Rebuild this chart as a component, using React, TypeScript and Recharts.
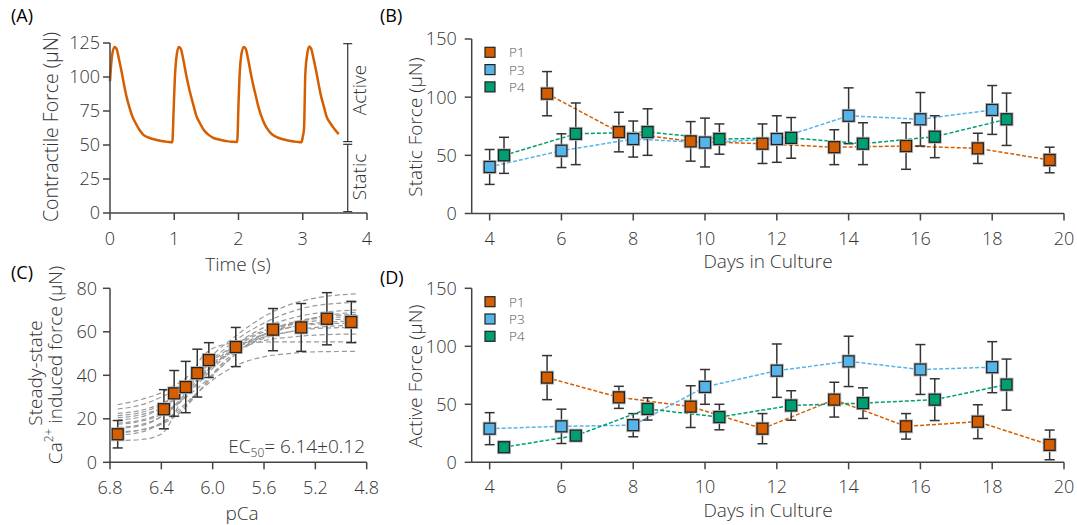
import React from "react";
import {
  LineChart, Line, XAxis, YAxis, ErrorBar, ReferenceLine,
} from "recharts";

// ---- panel A: contractile force trace ----
const traceTime = [
  0, 0.03, 0.07, 0.10, 0.14, 0.18, 0.22, 0.26, 0.30, 0.34, 0.40, 0.46, 0.52, 0.60, 0.70, 0.80, 0.90, 0.97,
  0.99, 1.01, 1.03, 1.07, 1.10, 1.14, 1.18, 1.22, 1.26, 1.30, 1.34, 1.40, 1.46, 1.52, 1.60, 1.70, 1.80, 1.90, 1.98,
  2.00, 2.02, 2.04, 2.08, 2.11, 2.15, 2.19, 2.23, 2.27, 2.31, 2.35, 2.41, 2.47, 2.53, 2.61, 2.71, 2.81, 2.91, 2.98,
  3.00, 3.02, 3.04, 3.07, 3.10, 3.13, 3.17, 3.21, 3.25, 3.29, 3.33, 3.37, 3.43, 3.49, 3.56,
];
const traceForce = [
  97, 115, 122, 121, 113, 104, 94, 85, 78, 72, 66, 61, 57.5, 55.5, 54, 53, 52.3, 52,
  75, 100, 113, 122, 121, 113, 103, 94, 86, 79, 72, 66, 61, 58, 55.5, 54, 53, 52.3, 52.2,
  80, 104, 115, 122, 121, 113, 103, 94, 86, 78, 72, 65, 60.5, 57.5, 55.5, 54, 53, 52.3, 52,
  56, 62, 102, 117, 122.5, 121, 113, 104, 94, 85, 78, 71, 66, 62, 58,
];
const bracketTime = 3.7;
const bracketCap = 0.07;
const activeSpan = [52.5, 124.5];
const staticSpan = [1, 50.5];

// ---- panels B & D: days in culture ----
const seriesNames = ["P1", "P3", "P4"];
const seriesColors = ["#D55E00", "#56B4E9", "#009E73"];
const p1Days = [5.6, 7.6, 9.6, 11.6, 13.6, 15.6, 17.6, 19.6];
const p3Days = [4, 6, 8, 10, 12, 14, 16, 18];
const p4Days = [4.4, 6.4, 8.4, 10.4, 12.4, 14.4, 16.4, 18.4];
const dayTicks = [4, 6, 8, 10, 12, 14, 16, 18, 20];

const staticP1 = [103, 70, 62, 60, 57, 58, 56, 46];
const staticP1Err = [19, 17, 17, 17, 15, 20, 13, 11];
const staticP3 = [40, 54, 64, 61, 64, 84, 81, 89];
const staticP3Err = [15, 14.5, 15.5, 21, 20, 24, 23, 21];
const staticP4 = [50, 68.5, 70, 64, 65, 60, 66, 81];
const staticP4Err = [15.5, 26.5, 20, 13, 17.5, 18, 18, 22.5];

const activeP1 = [73, 56, 48, 29, 54, 31, 35, 15];
const activeP1Err = [19, 9.5, 18, 13, 15, 11, 14.6, 12.8];
const activeP3 = [29, 31, 32, 65, 79, 87, 80, 82];
const activeP3Err = [13.8, 14.8, 10, 15, 23, 21.7, 21.5, 22];
const activeP4 = [13, 23, 46, 39, 49, 51, 54, 67];
const activeP4Err = [3, 3, 9.6, 11, 12.7, 13.2, 18, 22];

// ---- panel C: pCa-force ----
const pCaMean = [6.74, 6.38, 6.30, 6.21, 6.12, 6.03, 5.82, 5.53, 5.31, 5.11, 4.92];
const forceMean = [12.9, 24.4, 31.7, 34.6, 41, 47, 53, 61, 62, 66, 64.5];
const forceErr = [6.3, 9, 10.5, 11.8, 11, 8, 9, 9.7, 11, 12, 9.5];
const fitPCa = [6.74, 6.55, 6.4, 6.25, 6.1, 5.95, 5.8, 5.6, 5.4, 5.2, 4.88];
const fitCurves = [
  [10, 10.5, 13, 28, 47, 53.5, 55, 55.3, 55.4, 55.4, 55.4],
  [26.5, 29, 32, 37, 44, 52, 59, 67, 72.5, 75.5, 77.5],
  [24.5, 26.5, 30, 35, 42, 50, 57, 64, 69, 72, 73.5],
  [22.5, 24, 27, 32, 40, 48, 55, 62, 66, 68.5, 70],
  [20.5, 22, 25, 31, 39, 47, 54, 60, 64, 66.5, 68],
  [19.5, 21, 25, 32, 41, 49, 55, 60.5, 63.5, 65, 66],
  [17.5, 19, 22, 28, 37, 46, 53, 59, 62, 63.5, 64],
  [16, 17.5, 21, 28, 38, 47, 53, 57.5, 60, 61.5, 62],
  [15.5, 17, 21, 29, 39, 47, 52, 56, 57.5, 58.5, 59],
  [13.5, 15, 18, 24, 33, 43, 51, 59, 63.5, 66, 67],
  [12.5, 14, 18, 25, 33, 40, 45, 48.5, 50, 50.8, 51],
  [14, 15, 17.5, 23, 33, 44, 51.5, 57, 60, 62, 63],
  [18, 19.5, 22.5, 28, 35, 43, 50.5, 58, 63, 66.5, 69],
  [21.5, 23, 26.5, 32, 39.5, 47, 53, 58.5, 62, 64, 65],
];

const font = "'Open Sans', 'Noto Sans', sans-serif";
const weight = 300;
const axisColor = "#444";
const tickStyle = { fontSize: 18, fill: "#333", fontFamily: font, fontWeight: weight };

const traceData = traceTime.map((t, i) => ({ x: t, y: traceForce[i] }));
const zipSeries = (xs: number[], ys: number[], es: number[]) =>
  xs.map((x, i) => ({ x, y: ys[i], err: es[i] }));

const staticSeries = [
  zipSeries(p1Days, staticP1, staticP1Err),
  zipSeries(p3Days, staticP3, staticP3Err),
  zipSeries(p4Days, staticP4, staticP4Err),
];
const activeSeries = [
  zipSeries(p1Days, activeP1, activeP1Err),
  zipSeries(p3Days, activeP3, activeP3Err),
  zipSeries(p4Days, activeP4, activeP4Err),
];
const meanData = zipSeries(pCaMean, forceMean, forceErr);
const fitData = fitCurves.map(c => fitPCa.map((x, i) => ({ x, y: c[i] })));

const squareDot = (color: string) => (props: any) => {
  const { cx, cy, index } = props;
  if (cx == null || cy == null) return <g key={index} />;
  return (
    <g key={index}>
      <rect x={cx - 6.5} y={cy - 6.5} width={13} height={13} fill="none" stroke="#bbb" strokeWidth={1} />
      <rect x={cx - 5.5} y={cy - 5.5} width={11} height={11} fill={color} stroke="#222" strokeWidth={1.3} />
    </g>
  );
};

const axisProps = {
  axisLine: { stroke: axisColor, strokeWidth: 1.5 },
  tickLine: { stroke: axisColor, strokeWidth: 1.5 },
  tickSize: 7,
  tick: tickStyle,
};

function DaysPanel({ series, top, height, margin, xTickMargin }: { series: any[]; top: number; height: number; margin: any; xTickMargin: number }) {
  return (
    <div style={{ position: "absolute", left: 380, top }}>
      <LineChart width={697} height={height} margin={margin}>
        <XAxis type="number" dataKey="x" domain={[3.5, 20]} ticks={dayTicks} height={30} tickMargin={xTickMargin} {...axisProps} />
        <YAxis type="number" domain={[0, 150]} ticks={[0, 50, 100, 150]} width={40} tickMargin={8} {...axisProps} />
        {series.map((d, i) => (
          <Line
            key={seriesNames[i]}
            data={d}
            dataKey="y"
            type="linear"
            stroke={seriesColors[i]}
            strokeWidth={1.5}
            strokeDasharray="4 2"
            dot={squareDot(seriesColors[i])}
            activeDot={false}
            isAnimationActive={false}
          >
            <ErrorBar dataKey="err" width={5} stroke="#333" strokeWidth={1.5} direction="y" />
          </Line>
        ))}
      </LineChart>
    </div>
  );
}

function Legend({ top }: { top: number }) {
  return (
    <g>
      {seriesNames.map((n, i) => (
        <g key={n}>
          <rect x={485} y={top + i * 17.3 - 5} width={10} height={10} fill={seriesColors[i]} stroke="#222" strokeWidth={1.2} />
          <text x={509} y={top + i * 17.3 + 5} fontSize={13.5} fill="#555">{n}</text>
        </g>
      ))}
    </g>
  );
}

const rot = (x: number, y: number) => `translate(${x},${y}) rotate(-90)`;

export default function App() {
  return (
    <div style={{ position: "absolute", left: 0, top: 0, width: 1077, height: 525, background: "#fff", fontFamily: font }}>
      {/* (A) force trace */}
      <div style={{ position: "absolute", left: 0, top: 0 }}>
        <LineChart width={380} height={260} margin={{ top: 43, right: 13, bottom: 17, left: 70 }}>
          <XAxis type="number" dataKey="x" domain={[0, 4]} ticks={[0, 1, 2, 3, 4]} height={30} tickMargin={12} {...axisProps} />
          <YAxis type="number" domain={[0, 125]} ticks={[0, 25, 50, 75, 100, 125]} width={40} tickMargin={3} {...axisProps} />
          <Line data={traceData} dataKey="y" type="monotone" stroke="#D55E00" strokeWidth={2.5} dot={false} activeDot={false} isAnimationActive={false} />
          {[activeSpan, staticSpan].map((s, i) => (
            <React.Fragment key={i}>
              <ReferenceLine segment={[{ x: bracketTime, y: s[0] }, { x: bracketTime, y: s[1] }]} stroke="#333" strokeWidth={1.2} />
              <ReferenceLine segment={[{ x: bracketTime - bracketCap, y: s[0] }, { x: bracketTime + bracketCap, y: s[0] }]} stroke="#333" strokeWidth={1.2} />
              <ReferenceLine segment={[{ x: bracketTime - bracketCap, y: s[1] }, { x: bracketTime + bracketCap, y: s[1] }]} stroke="#333" strokeWidth={1.2} />
            </React.Fragment>
          ))}
        </LineChart>
      </div>

      {/* (B) static force */}
      <DaysPanel series={staticSeries} top={0} height={260} xTickMargin={12} margin={{ top: 39, right: 13, bottom: 16.5, left: 51.7 }} />

      {/* (C) pCa curve */}
      <div style={{ position: "absolute", left: 0, top: 260 }}>
        <LineChart width={380} height={265} margin={{ top: 28.3, right: 13.3, bottom: 32.7, left: 70 }}>
          <XAxis type="number" dataKey="x" domain={[4.8, 6.8]} reversed ticks={[6.8, 6.4, 6.0, 5.6, 5.2, 4.8]}
            tickFormatter={(v: number) => v.toFixed(1)} height={30} tickMargin={12} {...axisProps} />
          <YAxis type="number" domain={[0, 80]} ticks={[0, 20, 40, 60, 80]} width={40} tickMargin={6} {...axisProps} />
          {fitData.map((d, i) => (
            <Line key={i} data={d} dataKey="y" type="monotone" stroke="#9a9a9a" strokeWidth={1.2}
              strokeDasharray="5 3" dot={false} activeDot={false} isAnimationActive={false} />
          ))}
          <Line data={meanData} dataKey="y" stroke="none" dot={squareDot("#D55E00")} activeDot={false} isAnimationActive={false}>
            <ErrorBar dataKey="err" width={5} stroke="#333" strokeWidth={1.5} direction="y" />
          </Line>
        </LineChart>
      </div>

      {/* (D) active force */}
      <DaysPanel series={activeSeries} top={260} height={265} xTickMargin={11} margin={{ top: 28.3, right: 13, bottom: 32.7, left: 51.7 }} />

      {/* text overlay */}
      <svg width={1077} height={525} style={{ position: "absolute", left: 0, top: 0, pointerEvents: "none" }}
        fontFamily={font} fontWeight={weight} fill="#333">
        <text x={11} y={22} fontSize={18} fill="#000" fontWeight={400}>(A)</text>
        <text x={380} y={22} fontSize={18} fill="#000" fontWeight={400}>(B)</text>
        <text x={11} y={279} fontSize={18} fill="#000" fontWeight={400}>(C)</text>
        <text x={380} y={284} fontSize={18} fill="#000" fontWeight={400}>(D)</text>

        <text transform={rot(50, 127)} textAnchor="middle" dominantBaseline="central" fontSize={19.5}>Contractile Force (µN)</text>
        <text x={238} y={271} textAnchor="middle" fontSize={19}>Time (s)</text>
        <text transform={rot(359, 90)} textAnchor="middle" dominantBaseline="central" fontSize={19}>Active</text>
        <text transform={rot(359, 177)} textAnchor="middle" dominantBaseline="central" fontSize={19}>Static</text>

        <text transform={rot(415, 127)} textAnchor="middle" dominantBaseline="central" fontSize={19}>Static Force (µN)</text>
        <text x={768} y={268} textAnchor="middle" fontSize={19}>Days in Culture</text>
        <Legend top={52.3} />

        <text transform={rot(35, 373)} textAnchor="middle" dominantBaseline="central" fontSize={19}>Steady-state</text>
        <text transform={rot(55, 365)} textAnchor="middle" dominantBaseline="central" fontSize={19}>
          Ca<tspan fontSize={12} dy={-7}>2+</tspan><tspan dy={7}> induced force (µN)</tspan>
        </text>
        <text x={242} y={520} textAnchor="middle" fontSize={19}>pCa</text>
        <text x={365} y={453} textAnchor="end" fontSize={19}>
          EC<tspan fontSize={12} dy={4}>50</tspan><tspan dy={-4}>= 6.14±0.12</tspan>
        </text>

        <text transform={rot(415, 376)} textAnchor="middle" dominantBaseline="central" fontSize={19}>Active Force (µN)</text>
        <text x={768} y={517} textAnchor="middle" fontSize={19}>Days in Culture</text>
        <Legend top={301.7} />
      </svg>
    </div>
  );
}
